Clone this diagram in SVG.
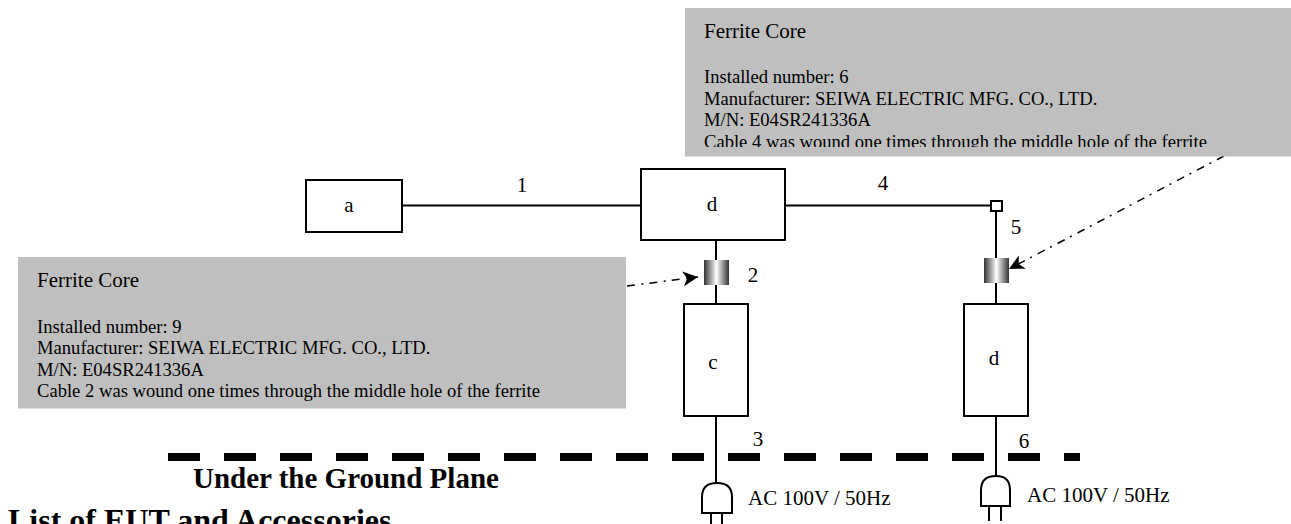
<svg xmlns="http://www.w3.org/2000/svg" width="1291" height="524" viewBox="0 0 1291 524">
<style>
text{font-family:"Liberation Serif","Times New Roman",serif;fill:#000;font-size:21px}
.note{font-size:18.6px}
.under{font-size:29px;font-weight:bold}
.list{font-size:32px;font-weight:bold}
.box{fill:#fff;stroke:#000;stroke-width:2}
.line{fill:none;stroke:#000;stroke-width:2}
.arrow{fill:none;stroke:#000;stroke-width:1.5;stroke-dasharray:8 6.500 2 6;marker-end:url(#ah)}
.grey{fill:#bfbfbf}
</style>
<defs>
<linearGradient id="fc"><stop offset="0" stop-color="#333"/><stop offset=".5" stop-color="#fff"/><stop offset="1" stop-color="#333"/></linearGradient>
<marker id="ah" markerUnits="userSpaceOnUse" markerWidth="18" markerHeight="16" refX="15" refY="7.500" orient="auto"><path d="M0 0L15 7.500L0 15L4 7.500Z" fill="#000"/></marker>
<clipPath id="cut"><rect x="685" y="8" width="606" height="139"/></clipPath>
</defs>
<g id="connectors">
<path class="line" d="M402 205.500H641M785 205.500H991M716 240V304M996 211V304M716 416V483M996 416V476"/>
<path d="M168 457H1080" fill="none" stroke="#000" stroke-width="8" stroke-dasharray="32 24"/>
<path class="arrow" d="M627 286L698 277"/>
<path class="arrow" d="M1224 156L1009 269"/>
</g>
<g id="note1"><rect class="grey" x="18" y="257" width="608" height="151.500"/>
<text x="37" y="287">Ferrite Core</text>
<text class="note" x="37" y="333">Installed number: 9</text>
<text class="note" x="37" y="354">Manufacturer: SEIWA ELECTRIC MFG. CO., LTD.</text>
<text class="note" x="37" y="376">M/N: E04SR241336A</text>
<text class="note" x="37" y="397">Cable 2 was wound one times through the middle hole of the ferrite</text></g>
<g id="note2"><rect class="grey" x="685" y="8" width="606" height="148.500"/>
<text x="704" y="38">Ferrite Core</text>
<text class="note" x="704" y="83">Installed number: 6</text>
<text class="note" x="704" y="105">Manufacturer: SEIWA ELECTRIC MFG. CO., LTD.</text>
<text class="note" x="704" y="126">M/N: E04SR241336A</text>
<g clip-path="url(#cut)"><text class="note" x="704" y="148">Cable 4 was wound one times through the middle hole of the ferrite</text></g></g>
<g id="node-a"><rect class="box" x="306" y="180" width="96" height="52"/><text x="349" y="212" text-anchor="middle">a</text></g>
<g id="node-d1"><rect class="box" x="641" y="169" width="144" height="71"/><text x="712" y="211" text-anchor="middle">d</text></g>
<g id="node-c"><rect class="box" x="684" y="304" width="64" height="112"/><text x="713" y="369" text-anchor="middle">c</text></g>
<g id="node-d2"><rect class="box" x="964" y="304" width="64" height="112"/><text x="994" y="365" text-anchor="middle">d</text></g>
<g id="junction"><rect x="991" y="201" width="11" height="10" fill="#fff" stroke="#000" stroke-width="2"/></g>
<g id="ferrite1"><rect x="704" y="260" width="25" height="25" fill="url(#fc)"/></g>
<g id="ferrite2"><rect x="984" y="258" width="25" height="25" fill="url(#fc)"/></g>
<g id="plug1"><path class="line" d="M702 513V497Q702 483 717 483Q732 483 732 497V513ZM711 513V524M722 513V524"/></g>
<g id="plug2"><path class="line" d="M981 506V490Q981 476 996 476Q1010 476 1010 490V506ZM989 506V521M1001 506V521"/></g>
<g id="labels">
<text x="522" y="192" text-anchor="middle">1</text>
<text x="883" y="190" text-anchor="middle">4</text>
<text x="753" y="282" text-anchor="middle">2</text>
<text x="1016" y="234" text-anchor="middle">5</text>
<text x="758" y="446" text-anchor="middle">3</text>
<text x="1024" y="448" text-anchor="middle">6</text>
<text x="748" y="505">AC 100V / 50Hz</text>
<text x="1027" y="502">AC 100V / 50Hz</text>
<text class="under" x="193" y="488">Under the Ground Plane</text>
<text class="list" x="8" y="531">List of EUT and Accessories</text>
</g>
</svg>
